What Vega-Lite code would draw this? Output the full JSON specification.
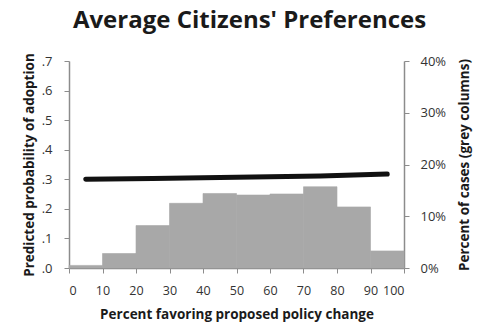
{
  "$schema": "https://vega.github.io/schema/vega-lite/v6.json",
  "width": 335,
  "height": 207,
  "autosize": {"type": "none"},
  "padding": {"left": 69, "top": 61, "right": 95, "bottom": 61},
  "background": "white",
  "title": {
    "text": "Average Citizens' Preferences",
    "font": "Open Sans",
    "fontSize": 24,
    "fontWeight": "bold",
    "color": "#1a1a1a",
    "anchor": "middle",
    "frame": "group",
    "offset": 20,
    "dx": 13
  },
  "config": {
    "view": {"stroke": null},
    "axis": {
      "labelFont": "Open Sans",
      "titleFont": "Open Sans",
      "labelFontSize": 13,
      "titleFontSize": 13.5,
      "titleFontWeight": "bold",
      "labelColor": "#333333",
      "titleColor": "#1a1a1a",
      "domainColor": "#8c8c8c",
      "tickColor": "#8c8c8c",
      "domainWidth": 1.5,
      "tickWidth": 1,
      "tickSize": 5,
      "grid": false,
      "labelOverlap": false
    }
  },
  "datasets": {
    "bars": [
      {"lo": 0, "hi": 10, "pct": 0.005},
      {"lo": 10, "hi": 20, "pct": 0.028},
      {"lo": 20, "hi": 30, "pct": 0.082},
      {"lo": 30, "hi": 40, "pct": 0.125},
      {"lo": 40, "hi": 50, "pct": 0.144},
      {"lo": 50, "hi": 60, "pct": 0.141},
      {"lo": 60, "hi": 70, "pct": 0.143},
      {"lo": 70, "hi": 80, "pct": 0.157},
      {"lo": 80, "hi": 90, "pct": 0.118},
      {"lo": 90, "hi": 100, "pct": 0.033}
    ],
    "line": [
      {"x": 5, "p": 0.300},
      {"x": 25, "p": 0.303},
      {"x": 50, "p": 0.307},
      {"x": 75, "p": 0.311},
      {"x": 95, "p": 0.318}
    ]
  },
  "layer": [
    {
      "data": {"name": "bars"},
      "mark": {"type": "rect", "color": "#a8a8a8", "stroke": "#a8a8a8", "strokeWidth": 0.6},
      "encoding": {
        "x": {
          "field": "lo",
          "type": "quantitative",
          "scale": {"domain": [0, 100], "nice": false},
          "axis": {
            "values": [0, 10, 20, 30, 40, 50, 60, 70, 80, 90, 100],
            "tickCount": 11,
            "labelOverlap": false,
            "labelFontSize": 12.5,
            "title": "Percent favoring proposed policy change",
            "labelPadding": 11,
            "titlePadding": 11
          }
        },
        "x2": {"field": "hi"},
        "y": {
          "field": "pct",
          "type": "quantitative",
          "scale": {"domain": [0, 0.4], "nice": false},
          "axis": {
            "orient": "right",
            "values": [0, 0.1, 0.2, 0.3, 0.4],
            "format": ".0%",
            "title": "Percent of cases (grey columns)",
            "titleAngle": -90,
            "titleBaseline": "bottom",
            "titlePadding": 26,
            "labelPadding": 11
          }
        },
        "y2": {"datum": 0}
      }
    },
    {
      "data": {"name": "line"},
      "mark": {"type": "line", "color": "#111111", "strokeWidth": 5, "strokeCap": "round"},
      "encoding": {
        "x": {
          "field": "x",
          "type": "quantitative",
          "scale": {"domain": [0, 100], "nice": false},
          "axis": {
            "values": [0, 10, 20, 30, 40, 50, 60, 70, 80, 90, 100],
            "tickCount": 11,
            "labelOverlap": false,
            "labelFontSize": 12.5,
            "title": "Percent favoring proposed policy change",
            "labelPadding": 11,
            "titlePadding": 11
          }
        },
        "y": {
          "field": "p",
          "type": "quantitative",
          "scale": {"domain": [0, 0.7], "nice": false},
          "axis": {
            "orient": "left",
            "values": [0, 0.1, 0.2, 0.3, 0.4, 0.5, 0.6, 0.7],
            "labelExpr": "replace(format(datum.value, '.1f'), '0.', '.')",
            "title": "Predicted probability of adoption",
            "labelPadding": 12,
            "titlePadding": 5
          }
        }
      }
    }
  ],
  "resolve": {"scale": {"y": "independent"}}
}
